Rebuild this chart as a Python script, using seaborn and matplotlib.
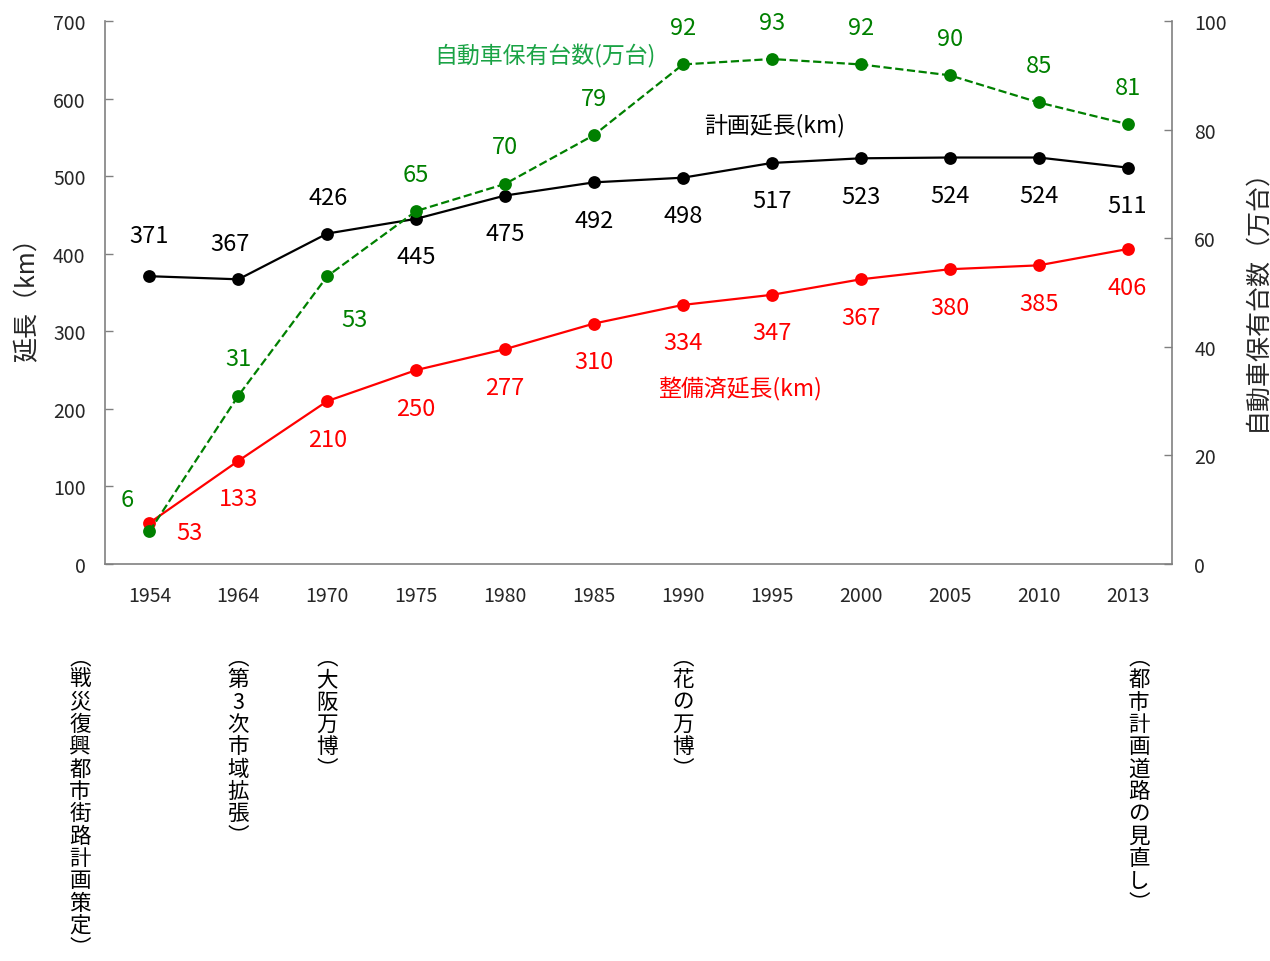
import matplotlib
matplotlib.use('Agg')
import matplotlib.pyplot as plt
import matplotlib.transforms as mtransforms
import numpy as np
import seaborn as sns

# data
years = ['1954', '1964', '1970', '1975', '1980', '1985',
         '1990', '1995', '2000', '2005', '2010', '2013']
planned_km = [371, 367, 426, 445, 475, 492, 498, 517, 523, 524, 524, 511]
built_km = [53, 133, 210, 250, 277, 310, 334, 347, 367, 380, 385, 406]
cars_10k = [6, 31, 53, 65, 70, 79, 92, 93, 92, 90, 85, 81]

event_years = ['1954', '1964', '1970', '1990', '2013']
event_labels = ['（戦災復興都市街路計画策定）', '（第3次市域拡張）', '（大阪万博）',
                '（花の万博）', '（都市計画道路の見直し）']

sns.set_style('white')
plt.rcParams['font.family'] = ['Noto Sans CJK JP', 'DejaVu Sans']

BLACK = '#000000'
RED = '#FF0000'
GREEN = '#008000'
GREEN_TXT = '#1AA345'
GRAY = '#808080'


def vertical(s):
    # stack characters top to bottom, with vertical-form brackets
    s = s.replace('（', '︵').replace('）', '︶')
    return '\n'.join(s)


fig = plt.figure(figsize=(12.7, 9.62), dpi=100)
ax = fig.add_axes([105 / 1270, 1 - 565 / 962, 1067 / 1270, 543 / 962])
ax2 = ax.twinx()

sns.pointplot(x=years, y=built_km, color=RED, markers='o', markersize=8,
              linewidth=1.6, errorbar=None, ax=ax)
sns.pointplot(x=years, y=planned_km, color=BLACK, markers='o', markersize=8,
              linewidth=1.6, errorbar=None, ax=ax)
sns.pointplot(x=years, y=cars_10k, color=GREEN, markers='o', markersize=8,
              linewidth=1.6, linestyles='--', errorbar=None, ax=ax2)

for a in (ax, ax2):
    a.set_xlim(-0.5, len(years) - 0.5)
    a.set_xlabel('')
    a.grid(False)
ax.set_ylim(0, 700)
ax2.set_ylim(0, 100)
ax.set_yticks(np.arange(0, 701, 100))
ax2.set_yticks(np.arange(0, 101, 20))

ax.set_xticks(range(len(years)))
ax.set_xticklabels(years)
ax.set_xticks(np.arange(0.5, len(years) - 1, 1), minor=True)
ax.tick_params(axis='x', which='major', length=0, pad=15, labelsize=14)
ax.tick_params(axis='x', which='minor', direction='in', length=6,
               color=GRAY, width=1)
ax.tick_params(axis='y', direction='in', length=6, color=GRAY, width=1,
               pad=14, labelsize=14, left=True)
ax2.tick_params(axis='y', direction='in', length=6, color=GRAY, width=1,
                pad=16, labelsize=14, right=True)

for s in ['top', 'right']:
    ax.spines[s].set_visible(False)
for s in ['top', 'left', 'bottom']:
    ax2.spines[s].set_visible(False)
for a, s in [(ax, 'left'), (ax, 'bottom'), (ax2, 'right')]:
    a.spines[s].set_color(GRAY)
    a.spines[s].set_linewidth(1.2)

ax.set_ylabel('延長（km）', fontsize=18, labelpad=9)
ax2.set_ylabel('自動車保有台数（万台）', fontsize=18, labelpad=12)

# value labels (offsets in pixels)
plan_off = {0: (0, 41), 1: (-8, 36), 2: (1, 36)}
for i, v in enumerate(planned_km):
    dx, dy = plan_off.get(i, (0, -38))
    ax.annotate(str(v), (i, v), xytext=(dx, dy), textcoords='offset pixels',
                ha='center', va='center', fontsize=17, color=BLACK)

built_off = {0: (40, -10)}
for i, v in enumerate(built_km):
    dx, dy = built_off.get(i, (0, -38))
    ax.annotate(str(v), (i, v), xytext=(dx, dy), textcoords='offset pixels',
                ha='center', va='center', fontsize=17, color=RED)

cars_off = {0: (-22, 32), 2: (27, -43)}
for i, v in enumerate(cars_10k):
    dx, dy = cars_off.get(i, (0, 37))
    ax2.annotate(str(v), (i, v), xytext=(dx, dy), textcoords='offset pixels',
                 ha='center', va='center', fontsize=17, color=GREEN)

# series names
ax2.text(0.412, 0.937, '自動車保有台数(万台)', transform=ax.transAxes,
         ha='center', va='center', fontsize=16.5, color=GREEN_TXT)
ax2.text(0.628, 0.810, '計画延長(km)', transform=ax.transAxes,
         ha='center', va='center', fontsize=16.5, color=BLACK)
ax2.text(0.595, 0.324, '整備済延長(km)', transform=ax.transAxes,
         ha='center', va='center', fontsize=16.5, color=RED)

# event notes under the axis, written vertically
blend = mtransforms.blended_transform_factory(ax.transData, fig.transFigure)
event_shift = {'1954': -0.78, '2013': 0.13}
for yr, lab in zip(event_years, event_labels):
    x = years.index(yr) + event_shift.get(yr, 0.0)
    ax.text(x, 1 - 647 / 962, vertical(lab), transform=blend, ha='center',
            va='top', fontsize=15.5, linespacing=1.02, color=BLACK,
            clip_on=False)

fig.savefig('out.png', dpi=100)
